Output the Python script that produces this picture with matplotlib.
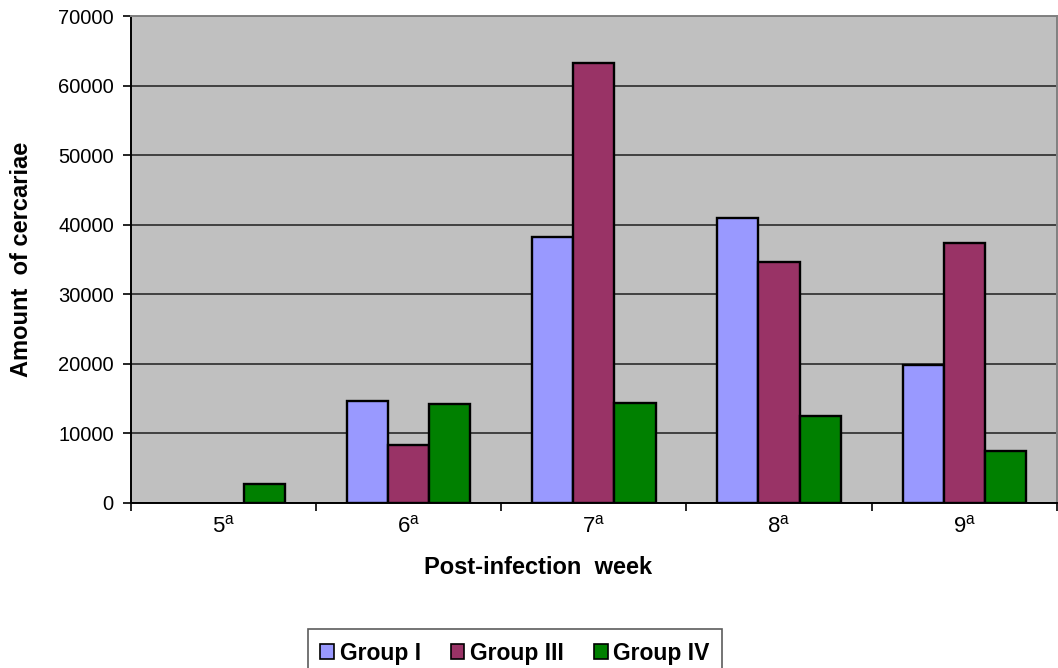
import matplotlib
matplotlib.use("Agg")
import matplotlib.pyplot as plt
from matplotlib.patches import Patch
import numpy as np

plt.rcParams['font.family'] = ['Liberation Sans', 'DejaVu Sans']
plt.rcParams['mathtext.fontset'] = 'custom'
plt.rcParams['mathtext.rm'] = 'Liberation Sans'

weeks = ["5", "6", "7", "8", "9"]
series_names = ["Group I", "Group III", "Group IV"]
group_i = [0, 14600, 38300, 40900, 19800]
group_iii = [0, 8300, 63200, 34600, 37300]
group_iv = [2800, 14300, 14400, 12500, 7500]
colors = ["#9999FF", "#993366", "#008000"]
yticks = [0, 10000, 20000, 30000, 40000, 50000, 60000, 70000]

fig = plt.figure(figsize=(10.58, 6.68), dpi=100)
ax = fig.add_axes([130.5/1058, (668-503)/668, (1057-130.5)/1058, (503-16)/668])
ax.set_facecolor("#C0C0C0")

x = np.arange(len(weeks))
w = 1/4.5
handles = []
for i, (vals, name, c) in enumerate(zip([group_i, group_iii, group_iv], series_names, colors)):
    vals = np.asarray(vals, dtype=float)
    lw = np.where(vals > 0, 1.7, 0.0)
    ax.bar(x + (i-1)*w, vals, width=w, color=c, edgecolor="black", linewidth=lw, zorder=3)
    handles.append(Patch(facecolor=c, edgecolor="black", linewidth=1.2, label=name))

ax.set_xlim(-0.5, len(weeks)-0.5)
ax.set_ylim(0, 70000)
ax.set_yticks(yticks)
ax.set_yticklabels([str(v) for v in yticks], fontsize=14.5)
ax.yaxis.grid(True, color="#2a2a2a", linewidth=1.2, zorder=1)
ax.set_axisbelow(True)

# category boundary ticks (major), labels at centers (minor)
ax.set_xticks(np.arange(-0.5, len(weeks), 1.0))
ax.set_xticklabels([])
ax.set_xticks(x, minor=True)
ax.set_xticklabels([w_ + r"$^{\mathrm{a}}$" for w_ in weeks], minor=True, fontsize=16)
ax.tick_params(axis='x', which='major', direction='out', length=6, width=1.2, color='black')
ax.tick_params(axis='x', which='minor', length=0, pad=9)
ax.tick_params(axis='y', direction='out', length=6, width=1.2, color='black', pad=6)

for s in ['left', 'bottom']:
    ax.spines[s].set_color('black')
    ax.spines[s].set_linewidth(1.4)
for s in ['top', 'right']:
    ax.spines[s].set_color('#808080')
    ax.spines[s].set_linewidth(1.4)

ax.set_ylabel("Amount  of cercariae", fontsize=17, fontweight='bold', labelpad=18)
fig.text(538/1058, 1-568/668, "Post-infection  week", fontsize=17, fontweight='bold',
         ha='center', va='center')

leg = fig.legend(handles=handles, loc='upper center', bbox_to_anchor=(515/1058, 1-629/668), ncol=3,
                 prop={'weight': 'bold', 'size': 16.5}, frameon=True, fancybox=False,
                 edgecolor='#333333', handlelength=0.6, handleheight=0.6, handletextpad=0.25,
                 columnspacing=1.3, borderpad=0.55, borderaxespad=0)
leg.get_frame().set_linewidth(1.2)

fig.savefig("out.png", dpi=100)
